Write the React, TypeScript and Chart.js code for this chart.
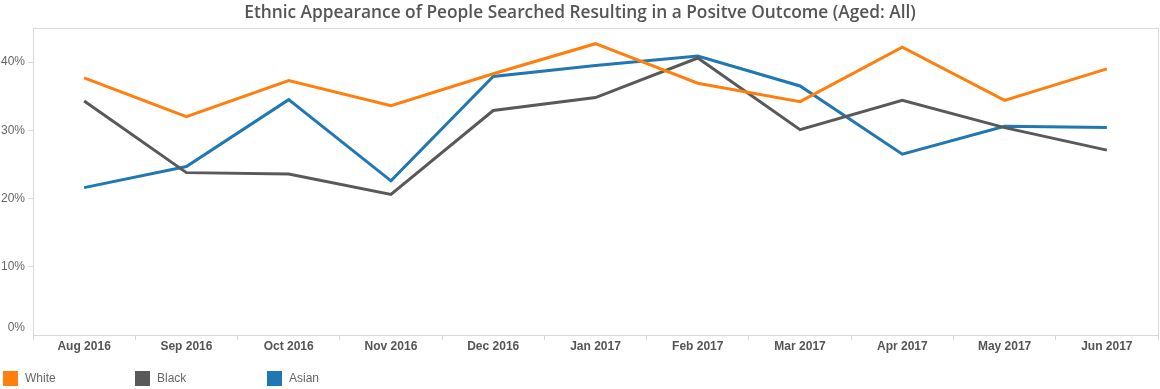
import React, { useEffect, useRef } from "react";
import { Chart, registerables } from "chart.js";

Chart.register(...registerables);

const categories = [
  "Aug 2016", "Sep 2016", "Oct 2016", "Nov 2016", "Dec 2016", "Jan 2017",
  "Feb 2017", "Mar 2017", "Apr 2017", "May 2017", "Jun 2017",
];
const seriesNames = ["White", "Black", "Asian"];
const whiteValues = [37.7, 32.0, 37.3, 33.6, 38.3, 42.7, 36.9, 34.2, 42.2, 34.4, 39.0];
const blackValues = [34.3, 23.8, 23.6, 20.6, 32.9, 34.8, 40.6, 30.1, 34.4, 30.4, 27.1];
const asianValues = [21.6, 24.7, 34.5, 22.6, 37.9, 39.5, 40.9, 36.5, 26.5, 30.6, 30.4];
const yTicks = [0, 10, 20, 30, 40];
const titleText = "Ethnic Appearance of People Searched Resulting in a Positve Outcome (Aged: All)";

const colors = ["#ff7f0e", "#595959", "#1f77b4"];

export default function App() {
  const ref = useRef<HTMLCanvasElement | null>(null);

  useEffect(() => {
    const canvas = ref.current;
    if (!canvas) return;

    const framePlugin = {
      id: "frame",
      beforeDraw(chart: any) {
        const { ctx, chartArea } = chart;
        ctx.save();
        ctx.strokeStyle = "#d9d9d9";
        ctx.lineWidth = 1;
        ctx.strokeRect(
          Math.round(chartArea.left) + 0.5,
          Math.round(chartArea.top) + 0.5,
          Math.round(chartArea.right - chartArea.left),
          Math.round(chartArea.bottom - chartArea.top)
        );
        ctx.restore();
      },
      afterDraw(chart: any) {
        const { ctx, scales } = chart;
        ctx.save();
        // title
        ctx.fillStyle = "#555555";
        ctx.textAlign = "center";
        ctx.textBaseline = "middle";
        ctx.font = "600 16px 'Open Sans'";
        const w = ctx.measureText(titleText).width;
        const size = 16 * 672 / w;
        ctx.font = `600 ${size.toFixed(2)}px 'Open Sans'`;
        ctx.fillText(titleText, 580, 13);
        // zero label, nudged inside the axis like the original
        ctx.textAlign = "right";
        ctx.font = "12px 'Liberation Sans'";
        ctx.fillStyle = "#666666";
        ctx.fillText(`${yTicks[0]}%`, 25, scales.y.getPixelForValue(yTicks[0]) - 7);
        // legend
        ctx.textAlign = "left";
        chart.data.datasets.forEach((ds: any, i: number) => {
          const x = 3 + i * 132;
          ctx.fillStyle = ds.borderColor;
          ctx.fillRect(x, 371, 15, 15);
          ctx.fillStyle = "#666666";
          ctx.fillText(ds.label, x + 22, 379);
        });
        ctx.restore();
      },
    };

    const chart = new Chart(canvas, {
      type: "line",
      data: {
        labels: categories,
        datasets: [
          { label: seriesNames[0], data: whiteValues, borderColor: colors[0], backgroundColor: colors[0] },
          { label: seriesNames[1], data: blackValues, borderColor: colors[1], backgroundColor: colors[1] },
          { label: seriesNames[2], data: asianValues, borderColor: colors[2], backgroundColor: colors[2] },
        ].map((d) => ({ ...d, borderWidth: 3, pointRadius: 0, tension: 0, fill: false })),
      },
      options: {
        animation: false,
        responsive: false,
        maintainAspectRatio: false,
        layout: { padding: { top: 28, right: 2, bottom: 30, left: 0 } },
        plugins: {
          legend: { display: false },
          title: { display: false },
          tooltip: { enabled: false },
        },
        scales: {
          x: {
            type: "category",
            offset: true,
            grid: {
              offset: true,
              drawOnChartArea: false,
              drawTicks: true,
              tickLength: 5,
              color: "#d9d9d9",
            },
            border: { display: false },
            ticks: {
              color: "#555555",
              font: { family: "'Liberation Sans'", size: 12, weight: "bold" },
              padding: -1,
              maxRotation: 0,
              autoSkip: false,
            },
            afterFit: (axis: any) => {
              axis.height = 24;
            },
          },
          y: {
            min: 0,
            max: 45,
            afterBuildTicks: (axis: any) => {
              axis.ticks = yTicks.map((v) => ({ value: v }));
            },
            grid: {
              drawOnChartArea: false,
              drawTicks: true,
              tickLength: 5,
              color: (c: any) => (c.tick && c.tick.value === 0 ? "rgba(0,0,0,0)" : "#d9d9d9"),
            },
            border: { display: false },
            ticks: {
              color: "#666666",
              font: { family: "'Liberation Sans'", size: 12 },
              padding: 3,
              callback: (v: any) => (v === 0 ? "" : `${v}%`),
            },
            afterFit: (axis: any) => {
              axis.width = 33;
            },
          },
        },
      },
      plugins: [framePlugin],
    });

    return () => chart.destroy();
  }, []);

  return (
    <div style={{ position: "fixed", left: 0, top: 0, width: 1160, height: 389, background: "#fff" }}>
      <canvas ref={ref} width={1160} height={389} style={{ width: 1160, height: 389, display: "block" }} />
    </div>
  );
}
